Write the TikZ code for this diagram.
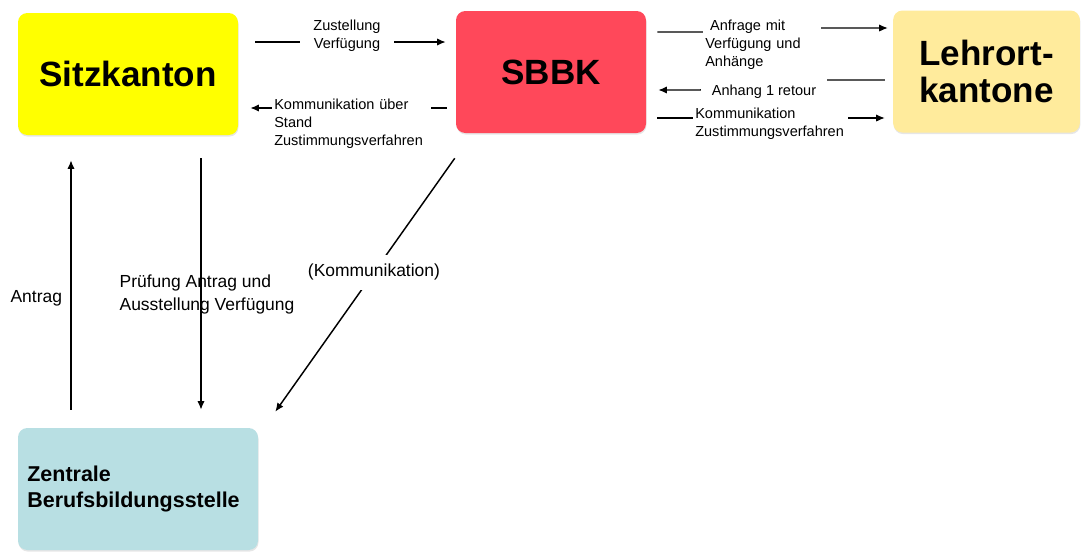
\documentclass[tikz,border=0pt]{standalone}
\usepackage{fontspec}
\setmainfont{Liberation Sans}
\usepackage{xcolor}
\usetikzlibrary{positioning,shadows,arrows.meta}
\definecolor{sitzgelb}{RGB}{255,255,0}
\definecolor{sbbkrot}{RGB}{255,72,90}
\definecolor{lehrgelb}{RGB}{255,235,156}
\definecolor{zbsblau}{RGB}{184,223,227}
\tikzset{
  kasten/.style={rounded corners=7pt, inner sep=0pt, minimum height=91.5pt,
    drop shadow={opacity=0.2, shadow xshift=0.4pt, shadow yshift=-1.2pt}},
  gross/.style={font=\fontsize{26.3}{27.5}\selectfont\bfseries, align=center},
  klein/.style={font=\fontsize{10.9}{13.5}\selectfont, align=left, inner sep=1.5pt},
  mittel/.style={font=\fontsize{13.1}{17.25}\selectfont, align=left, inner sep=1pt},
  pfeil/.style={-{Latex[length=6.5pt,width=5.5pt]}, line width=1.1pt}
}

\begin{document}
\begin{tikzpicture}[x=0.75pt,y=-0.75pt]
\useasboundingbox (0,0) rectangle (1081,551);
\node[kasten, gross, fill=sitzgelb, minimum width=165pt] (sitz) at (128,74) {Sitzkanton};
\node[kasten, gross, fill=sbbkrot, minimum width=142.5pt] (sbbk) at (551,72) {SBBK};
\node[kasten, gross, fill=lehrgelb, minimum width=140pt] (lehr) at (986.5,71.5) {Lehrort-\\kantone};
\node[kasten, fill=zbsblau, minimum width=180pt, text width=166pt, inner xsep=7pt, align=left,
  font=\fontsize{16.1}{19.5}\selectfont\bfseries] (zbs) at (138,489) {Zentrale\\Berufsbildungsstelle};

% Sitzkanton <-> SBBK
\draw[pfeil, shorten <=12.75pt, shorten >=7.5pt] (sitz.east |- 0,42) -- (sbbk.west |- 0,42)
  node[klein, midway, fill=white, align=center, minimum width=70pt, yshift=5pt] (zust) {Zustellung\\Verfügung};
\draw[pfeil, shorten <=6.75pt, shorten >=9pt] (sbbk.west |- 0,108) -- (sitz.east |- 0,108);
\node[klein, fill=white, anchor=north west, text width=116pt] (stand) at (272,97)
  {Kommunikation über\\Stand\\Zustimmungsverfahren};

% SBBK <-> Lehrortkantone
\draw[pfeil, shorten <=8.25pt, shorten >=3.75pt] (sbbk.east |- 0,32) -- (703,32) -- (820,28) -- (lehr.west |- 0,28);
\node[klein, fill=white, anchor=north west, text width=85pt] (anfr) at (703,18)
  {\,\,Anfrage mit\\Verfügung und\\Anhänge};
\draw[pfeil, shorten <=6pt, shorten >=9pt] (lehr.west |- 0,80) -- (822,80) -- (700,90) -- (sbbk.east |- 0,90);
\node[klein, fill=white, minimum width=95pt, minimum height=24pt] (retour) at (764,92) {Anhang 1 retour};
\draw[pfeil, shorten <=8.25pt, shorten >=6pt] (sbbk.east |- 0,118) -- (lehr.west |- 0,118);
\node[klein, fill=white, anchor=north west, text width=113pt] (zust2) at (693,106)
  {Kommunikation\\Zustimmungsverfahren};

% Zentrale Berufsbildungsstelle
\draw[pfeil, shorten <=13.5pt, shorten >=18.75pt] (zbs.north -| 71,0) -- (sitz.south -| 71,0);
\node[mittel, anchor=west] (antr) at (9,298) {Antrag};
\draw[pfeil, shorten <=17.25pt, shorten >=13.5pt] (sitz.south -| 201,0) -- (zbs.north -| 201,0);
\node[mittel, anchor=north west] (pruef) at (118,273) {Prüfung Antrag und\\Ausstellung Verfügung};
\draw[pfeil] ([shift={(-1,25)}]sbbk.south west) -- ([shift={(17,-16)}]zbs.north east)
  node[mittel, pos=0.45, fill=white, inner ysep=7pt] (komm) {(Kommunikation)};
\end{tikzpicture}
\end{document}
